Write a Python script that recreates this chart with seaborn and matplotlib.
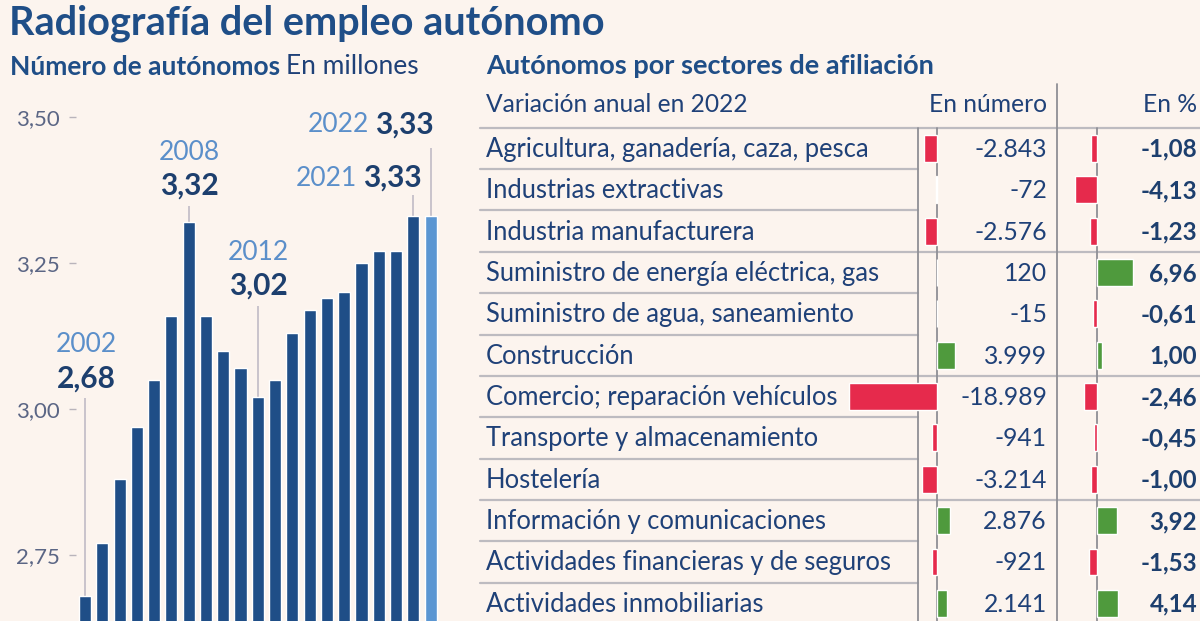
import numpy as np
import pandas as pd
import matplotlib
matplotlib.use("Agg")
import matplotlib.pyplot as plt
import seaborn as sns

# ---------------- data ----------------
years = [str(y) for y in range(2002, 2023)]
autonomos = [2.68, 2.77, 2.88, 2.97, 3.05, 3.16, 3.32, 3.16, 3.10, 3.07, 3.02,
             3.05, 3.13, 3.17, 3.19, 3.20, 3.25, 3.27, 3.27, 3.33, 3.33]
ytick_vals = [2.75, 3.00, 3.25, 3.50]
ytick_labels = ["2,75", "3,00", "3,25", "3,50"]

sectores = ["Agricultura, ganadería, caza, pesca", "Industrias extractivas",
            "Industria manufacturera", "Suministro de energía eléctrica, gas",
            "Suministro de agua, saneamiento", "Construcción",
            "Comercio; reparación vehículos", "Transporte y almacenamiento",
            "Hostelería", "Información y comunicaciones",
            "Actividades financieras y de seguros", "Actividades inmobiliarias"]
var_numero = [-2843, -72, -2576, 120, -15, 3999, -18989, -941, -3214, 2876, -921, 2141]
var_numero_txt = ["-2.843", "-72", "-2.576", "120", "-15", "3.999", "-18.989",
                  "-941", "-3.214", "2.876", "-921", "2.141"]
var_pct = [-1.08, -4.13, -1.23, 6.96, -0.61, 1.00, -2.46, -0.45, -1.00, 3.92, -1.53, 4.14]
var_pct_txt = ["-1,08", "-4,13", "-1,23", "6,96", "-0,61", "1,00", "-2,46",
               "-0,45", "-1,00", "3,92", "-1,53", "4,14"]

# ---------------- style ----------------
BG = "#fcf4ee"
NAVY = "#1f4e87"
LIGHT = "#5b96d2"
YEARC = "#5b8fca"
VALC = "#1d3f6e"
TXT = "#1f4178"
TICKC = "#5b6685"
RED = "#e62a4c"
GREEN = "#4f9a3d"
VLINE = "#8f8f95"
HLINE = "#bdbbc0"
ANNL = "#c9c3cc"

sns.set_style("white")
plt.rcParams["font.family"] = ["Lato", "DejaVu Sans"]

W, H = 1200, 621
fig = plt.figure(figsize=(W / 100, H / 100), dpi=100, facecolor=BG)


def rect(x0, y0, x1, y1):
    """pixel box (top-left origin) -> figure fraction rect"""
    return [x0 / W, 1 - y1 / H, (x1 - x0) / W, (y1 - y0) / H]


# overlay axes in pixel coordinates for texts / rules
ov = fig.add_axes([0, 0, 1, 1], zorder=0)
ov.set_xlim(0, W)
ov.set_ylim(H, 0)
ov.axis("off")
ov.patch.set_alpha(0)

# ---------------- left chart ----------------
PX_PER_UNIT = 584.0
ybot, ytop = 2.637, 3.52
ax_top_px = H - (ytop - ybot) * PX_PER_UNIT
ax = fig.add_axes(rect(76.4, ax_top_px, 439.2, H), zorder=1)
ax.patch.set_alpha(0)
df = pd.DataFrame({"year": years, "val": autonomos})
bar_cols = [NAVY] * (len(years) - 1) + [LIGHT]
sns.barplot(data=df, x="year", y="val", hue="year", palette=bar_cols,
            width=0.7, saturation=1, legend=False, ax=ax)
ax.set_xlim(-0.5, len(years) - 0.5)
ax.set_ylim(ybot, ytop)
ax.set_yticks(ytick_vals)
ax.set_yticklabels(ytick_labels)
ax.set_xticks([])
ax.set_xlabel("")
ax.set_ylabel("")
for s in ax.spines.values():
    s.set_visible(False)
ax.tick_params(axis="y", left=True, direction="out", length=5, width=1.0,
               color="#b9b4bb", pad=7, labelsize=16, labelcolor=TICKC)

# annotation leader lines (data coords: from bar top upward)
ann = {0: 3.019, 6: 3.347, 10: 3.176, 19: 3.366, 20: 3.447}
for i, top in ann.items():
    ax.plot([i, i], [autonomos[i], top], color=ANNL, lw=1.4, zorder=0,
            solid_capstyle="butt")

renderer = fig.canvas.get_renderer()

# stacked labels (year above, value below)
for i, ty, vy in [(0, 345, 379), (6, 152, 186), (10, 252, 286)]:
    cx = 85 + 17.28 * i
    ov.text(cx + 1, ty, years[i], ha="center", va="center", fontsize=19,
            color=YEARC)
    ov.text(cx + 1, vy, f"{autonomos[i]:.2f}".replace(".", ","), ha="center",
            va="center", fontsize=21.5, fontweight="bold", color=VALC)

# inline labels (year + value)
for i, xr, y in [(19, 422, 178), (20, 434, 125)]:
    t = ov.text(xr, y, f"{autonomos[i]:.2f}".replace(".", ","), ha="right",
                va="center", fontsize=21.5, fontweight="bold", color=VALC)
    bb = t.get_window_extent(renderer)
    ov.text(bb.x0 - 6, y, years[i], ha="right", va="center", fontsize=19,
            color=YEARC)

# titles
ov.text(9, 23, "Radiografía del empleo autónomo", ha="left", va="center",
        fontsize=28.5, fontweight="bold", color=NAVY)
t = ov.text(10, 67, "Número de autónomos", ha="left", va="center",
            fontsize=19, fontweight="bold", color=NAVY)
bb = t.get_window_extent(renderer)
ov.text(bb.x1 + 6, 67, "En millones", ha="left", va="center", fontsize=19,
        color=TXT)

# ---------------- right table ----------------
ROW0 = 127.7
ROWH = 41.36
nrows = len(sectores)
ov.text(486, 66, "Autónomos por sectores de afiliación", ha="left", va="center",
        fontsize=19.5, fontweight="bold", color=NAVY)
ov.text(486, 105, "Variación anual en 2022", ha="left", va="center",
        fontsize=17.7, color=TXT)
ov.text(1047, 105, "En número", ha="right", va="center", fontsize=17.7, color=TXT)
ov.text(1197, 105, "En %", ha="right", va="center", fontsize=17.7, color=TXT)

# rules
ov.plot([480, 1200], [ROW0, ROW0], color=HLINE, lw=1.6)
for k in range(1, nrows):
    y = ROW0 + ROWH * k
    x_end = 1200 if k % 3 == 0 else 917.7
    ov.plot([480, x_end], [y, y], color=HLINE, lw=1.6)
for x, y0 in [(917.7, ROW0), (936.7, ROW0), (1057, 84), (1096.7, ROW0)]:
    ov.plot([x, x], [y0, H], color=VLINE, lw=1.3)

for k in range(nrows):
    yc = ROW0 + ROWH * (k + 0.5) + 1
    ov.text(486, yc, sectores[k], ha="left", va="center", fontsize=18.4, color=TXT)
    ov.text(1047, yc, var_numero_txt[k], ha="right", va="center", fontsize=17.8,
            color=TXT)
    ov.text(1197, yc, var_pct_txt[k], ha="right", va="center", fontsize=17.4,
            fontweight="bold", color=VALC)

tdf = pd.DataFrame({"sector": sectores, "num": var_numero, "pct": var_pct})
tdf["signo_n"] = np.where(tdf["num"] < 0, "neg", "pos")
tdf["signo_p"] = np.where(tdf["pct"] < 0, "neg", "pos")
pal = {"neg": RED, "pos": GREEN}
ybox_bottom = ROW0 + ROWH * nrows

# number bars
axn = fig.add_axes(rect(840, ROW0, 1057, ybox_bottom), zorder=2)
axn.patch.set_alpha(0)
sns.barplot(data=tdf, x="num", y="sector", hue="signo_n", palette=pal,
            orient="h", width=0.65, saturation=1, legend=False, dodge=False, ax=axn)
scale_n = 0.004634  # px per unit
axn.set_xlim(-(936.7 - 840) / scale_n, (1057 - 936.7) / scale_n)
axn.set_ylim(nrows - 0.5, -0.5)

# percent bars
axp = fig.add_axes(rect(1057, ROW0, 1200, ybox_bottom), zorder=2)
axp.patch.set_alpha(0)
sns.barplot(data=tdf, x="pct", y="sector", hue="signo_p", palette=pal,
            orient="h", width=0.65, saturation=1, legend=False, dodge=False, ax=axp)
scale_p = 5.26
axp.set_xlim(-(1096.7 - 1057) / scale_p, (1200 - 1096.7) / scale_p)
axp.set_ylim(nrows - 0.5, -0.5)

for a in (axn, axp):
    a.set_xticks([])
    a.set_yticks([])
    a.set_xlabel("")
    a.set_ylabel("")
    for s in a.spines.values():
        s.set_visible(False)

fig.savefig("out.png", dpi=100, facecolor=BG)
